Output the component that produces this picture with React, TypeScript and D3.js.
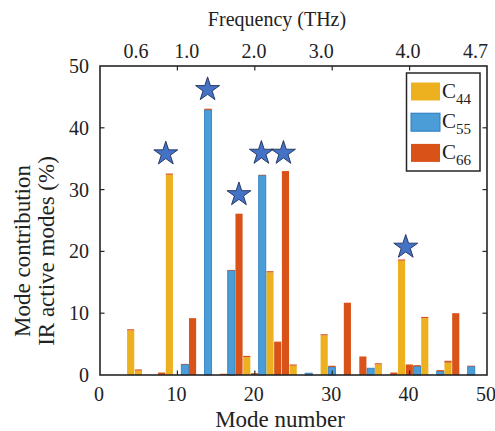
import React, { useEffect, useRef } from 'react';
import * as d3 from 'd3';

// mode numbers that carry a bar, and the contribution of each elastic constant (%)
const modes = [4, 5, 8, 9, 11, 12, 14, 16, 17, 18, 19, 20, 21, 22, 23, 24, 25, 27, 29, 30, 32, 34, 35, 36, 38, 39, 40, 41, 42, 44, 45, 46, 48];
const c44 = [7.2, 0.7, 0, 32.4, 0, 0, 0, 0, 0, 0, 2.9, 0, 0, 16.6, 0, 0, 1.5, 0, 6.4, 0, 0, 0, 0, 1.7, 0, 18.5, 0, 0, 9.2, 0, 2.0, 0, 0];
const c55 = [0, 0, 0, 0, 1.7, 0, 42.9, 0, 16.9, 0, 0, 0, 32.3, 0, 0, 0, 0, 0.3, 0, 1.3, 0, 0, 1.1, 0, 0, 0, 0, 1.4, 0, 0.6, 0, 0, 1.4];
const c66 = [0.2, 0.2, 0.4, 0.2, 0.1, 9.2, 0.2, 0.2, 0.1, 26.1, 0.2, 0.3, 0.1, 0.2, 5.4, 33.0, 0.2, 0, 0.2, 0.2, 11.7, 3.0, 0, 0.2, 0.4, 0.2, 1.7, 0.2, 0.2, 0.2, 0.3, 10.0, 0.1];

// IR active modes marked with a star (x in mode units, y in %)
const starX = [8.5, 13.9, 17.95, 20.85, 23.7, 39.5];
const starY = [35.8, 46.2, 29.2, 35.9, 35.9, 20.7];

// top axis: frequency labels and where they sit on the mode axis
const freqLabels = ['0.6', '1.0', '2.0', '3.0', '4.0', '4.7'];
const freqPos = [4.65, 11.2, 19.9, 28.6, 39.8, 48.5];

const seriesNames = ['44', '55', '66'];
const seriesColors = ['#EDB120', '#4A9DD6', '#D95319'];
const xTicks = [0, 10, 20, 30, 40, 50];
const yTicks = [0, 10, 20, 30, 40, 50];

const App = () => {
    const svgRef = useRef<SVGSVGElement>(null);

    useEffect(() => {
        const width = 495;
        const height = 431;
        const left = 100, right = 487, top = 66, bottom = 375;
        const axisColor = '#262626';
        const font = '"Liberation Serif", "Times New Roman", serif';

        const root = d3.select(svgRef.current);
        root.selectAll('*').remove();
        root.attr('width', width).attr('height', height);

        const x = d3.scaleLinear().domain([0, 50]).range([left, right]);
        const y = d3.scaleLinear().domain([0, 50]).range([bottom, top]);

        // stacked bars, one stack per mode
        const table = modes.map((m, i) => ({ mode: m, c44: c44[i], c55: c55[i], c66: c66[i] }));
        const stack = d3.stack<any>().keys(['c44', 'c55', 'c66']);
        const layers = stack(table);
        const barW = x(1) - x(0);

        layers.forEach((layer, k) => {
            root.append('g')
                .selectAll('rect')
                .data(layer)
                .enter()
                .append('rect')
                .attr('x', d => x(d.data.mode) - barW / 2)
                .attr('width', barW - 0.6)
                .attr('y', d => y(d[1]))
                .attr('height', d => Math.max(0, y(d[0]) - y(d[1])))
                .attr('fill', seriesColors[k])
                .attr('stroke', k === 1 ? '#2A7CBF' : 'none')
                .attr('stroke-width', 0.8);
        });

        // stars above the IR active modes
        const star = d3.symbol().type(d3.symbolStar).size(178);
        root.append('g')
            .selectAll('path')
            .data(starX.map((sx, i) => ({ sx, sy: starY[i] })))
            .enter()
            .append('path')
            .attr('d', star)
            .attr('transform', d => `translate(${x(d.sx)},${y(d.sy)})`)
            .attr('fill', '#4472C4')
            .attr('stroke', '#1F2F5C')
            .attr('stroke-width', 0.9);

        // axis box
        root.append('rect')
            .attr('x', left).attr('y', top)
            .attr('width', right - left).attr('height', bottom - top)
            .attr('fill', 'none')
            .attr('stroke', axisColor)
            .attr('stroke-width', 1.6);

        const tickLen = 4.5;
        const ticks = root.append('g').attr('stroke', axisColor).attr('stroke-width', 1.2);
        xTicks.slice(1, -1).forEach(t => {
            ticks.append('line').attr('x1', x(t)).attr('x2', x(t)).attr('y1', bottom).attr('y2', bottom - tickLen);
            ticks.append('line').attr('x1', x(t)).attr('x2', x(t)).attr('y1', top).attr('y2', top + tickLen);
        });
        yTicks.slice(1, -1).forEach(t => {
            ticks.append('line').attr('x1', left).attr('x2', left + tickLen).attr('y1', y(t)).attr('y2', y(t));
            ticks.append('line').attr('x1', right).attr('x2', right - tickLen).attr('y1', y(t)).attr('y2', y(t));
        });

        const text = root.append('g')
            .style('font-family', font)
            .attr('fill', '#222');

        // bottom tick labels
        xTicks.forEach(t => {
            text.append('text')
                .attr('x', x(t) - 1).attr('y', 401)
                .attr('text-anchor', 'middle')
                .attr('font-size', 20)
                .text(t);
        });

        // left tick labels
        yTicks.forEach(t => {
            text.append('text')
                .attr('x', 89).attr('y', y(t) + 7)
                .attr('text-anchor', 'end')
                .attr('font-size', 20)
                .text(t);
        });

        // top frequency labels
        freqLabels.forEach((lab, i) => {
            text.append('text')
                .attr('x', x(freqPos[i])).attr('y', 58)
                .attr('text-anchor', 'middle')
                .attr('font-size', 20)
                .text(lab);
        });

        text.append('text')
            .attr('x', 277).attr('y', 26)
            .attr('text-anchor', 'middle')
            .attr('font-size', 20)
            .text('Frequency (THz)');

        text.append('text')
            .attr('x', 280).attr('y', 427)
            .attr('text-anchor', 'middle')
            .attr('font-size', 23)
            .text('Mode number');

        // two-line y title
        const yTitle = ['Mode contribution', 'IR active modes (%)'];
        yTitle.forEach((line, i) => {
            text.append('text')
                .attr('transform', `translate(${30 + i * 24},251) rotate(-90)`)
                .attr('text-anchor', 'middle')
                .attr('font-size', 23)
                .text(line);
        });

        // legend
        const lg = root.append('g');
        lg.append('rect')
            .attr('x', 406.5).attr('y', 73)
            .attr('width', 73.5).attr('height', 98)
            .attr('fill', '#fff')
            .attr('stroke', axisColor)
            .attr('stroke-width', 1.5);
        seriesNames.forEach((name, i) => {
            const cy = 91.5 + i * 30.7;
            lg.append('rect')
                .attr('x', 411).attr('y', cy - 9)
                .attr('width', 29).attr('height', 18)
                .attr('fill', seriesColors[i])
                .attr('stroke', i === 1 ? '#2A7CBF' : 'none');
            const t = lg.append('text')
                .attr('x', 442).attr('y', cy + 6)
                .style('font-family', font)
                .attr('font-size', 21)
                .attr('fill', '#222');
            t.append('tspan').text('C');
            t.append('tspan').attr('dy', 6).attr('font-size', 15).text(name);
        });
    }, []);

    return (
        <svg ref={svgRef} style={{ position: 'absolute', left: 0, top: 0, background: '#fff' }}></svg>
    );
};

export default App;
